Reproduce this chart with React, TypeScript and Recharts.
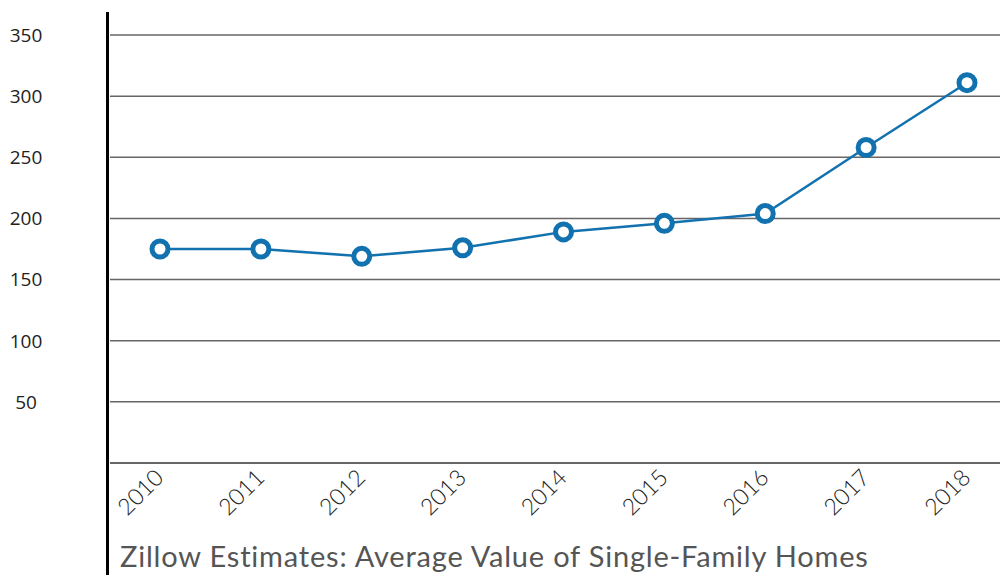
import React from "react";
import {
  LineChart,
  Line,
  XAxis,
  YAxis,
  CartesianGrid,
} from "recharts";

const YEARS = ["2010", "2011", "2012", "2013", "2014", "2015", "2016", "2017", "2018"];
const AVG_VALUE = [175, 175, 169, 176, 189, 196, 204, 258, 311];
const Y_TICKS = [0, 50, 100, 150, 200, 250, 300, 350];
const TITLE = "Zillow Estimates: Average Value of Single-Family Homes";

const LINE_COLOR = "#1272b0";

const data = YEARS.map((year, i) => ({ year, value: AVG_VALUE[i] }));

function YTick({ y, payload }: any) {
  // the 0 tick sits on the x axis and is not labelled
  if (payload.value === 0) return null;
  return (
    <text
      x={26}
      y={y}
      dy="0.36em"
      textAnchor="middle"
      fill="#222"
      fontSize={19}
      fontFamily="'Open Sans', sans-serif"
    >
      {payload.value}
    </text>
  );
}

function XTick({ x, y, payload }: any) {
  return (
    <text
      transform={`translate(${x + 5},${y + 14}) rotate(-45)`}
      textAnchor="end"
      fill="#222"
      fontSize={23}
      fontWeight={300}
      fontFamily="Lato, sans-serif"
    >
      {payload.value}
    </text>
  );
}

export default function App() {
  return (
    <div
      style={{
        position: "absolute",
        left: 0,
        top: 0,
        width: 1000,
        height: 575,
        overflow: "hidden",
        background: "#fff",
      }}
    >
      <LineChart
        width={1000}
        height={575}
        data={data}
        margin={{ top: 35, right: 0, bottom: 82, left: 0 }}
      >
        <CartesianGrid
          vertical={false}
          stroke="#555"
          strokeWidth={1.5}
          strokeOpacity={0.9}
        />
        <XAxis
          dataKey="year"
          height={30}
          padding={{ left: 50, right: 33 }}
          axisLine={{ stroke: "#666", strokeWidth: 2 }}
          tickLine={false}
          tickSize={0}
          tick={<XTick />}
          interval={0}
        />
        <YAxis
          width={110}
          domain={[0, 350]}
          ticks={Y_TICKS}
          axisLine={false}
          tickLine={false}
          tick={<YTick />}
        />
        <Line
          type="linear"
          dataKey="value"
          stroke={LINE_COLOR}
          strokeWidth={2.5}
          dot={{ r: 8, stroke: LINE_COLOR, strokeWidth: 5, fill: "#fff" }}
          activeDot={false}
          isAnimationActive={false}
        />
      </LineChart>
      {/* heavy left rule that runs past the x axis down to the bottom */}
      <div
        style={{
          position: "absolute",
          left: 106,
          top: 12,
          width: 3,
          height: 563,
          background: "#000",
        }}
      />
      <div
        style={{
          position: "absolute",
          left: 120,
          top: 538,
          fontFamily: "Lato, sans-serif",
          fontSize: 29,
          letterSpacing: 0.8,
          color: "#555",
          whiteSpace: "nowrap",
          lineHeight: "36px",
        }}
      >
        {TITLE}
      </div>
    </div>
  );
}
